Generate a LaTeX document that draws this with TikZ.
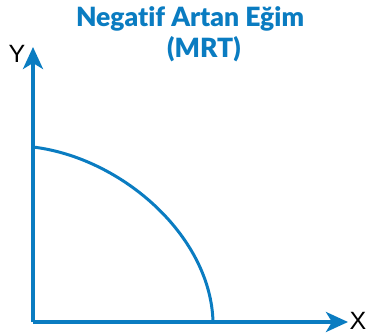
\documentclass[tikz,border=0pt]{standalone}
\usepackage{fontspec}
\setmainfont{Lato}
\newfontfamily\titlefont[Ligatures=NoCommon]{Lato Black}
\newfontfamily\labfont{Liberation Sans}
\usetikzlibrary{arrows.meta}
\definecolor{mblue}{HTML}{0A7CC1}
\tikzset{
  axis/.style={mblue, line width=3.5pt, -{Stealth[length=22pt,width=20pt,inset=6pt]}},
  curve/.style={mblue, line width=3pt},
  ttl/.style={mblue, font=\titlefont\fontsize{26.5}{26.5}\selectfont, inner sep=0pt, anchor=base},
  lab/.style={black, font=\labfont\fontsize{25}{25}\selectfont, inner sep=0pt, anchor=base}
}
\begin{document}
\begin{tikzpicture}[x=1pt,y=-1pt]
\useasboundingbox (0,0) rectangle (370,335);
\coordinate (o) at (33,322);
\coordinate (ytip) at (33,47);
\coordinate (xtip) at (348,322);
\coordinate (cs) at (33,147);
\coordinate (ce) at (213,322);
\draw[axis] (o) -- (ytip);
\draw[axis] (o) -- (xtip);
\draw[curve] (cs) .. controls (123,158) and (211,237) .. (ce);
\node[ttl] (t1) at (190,26) {Negatif Artan Eğim};
\node[ttl] (t2) at (204,57) {(MRT)};
\node[lab] (ly) at (17,62) {Y};
\node[lab] (lx) at (358,329) {X};
\end{tikzpicture}
\end{document}
